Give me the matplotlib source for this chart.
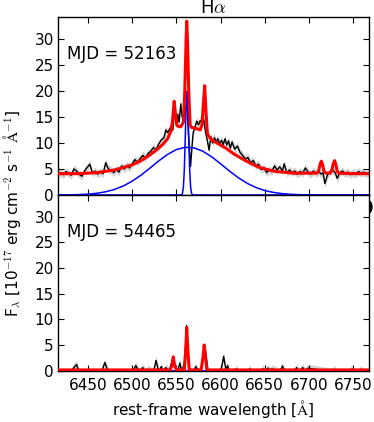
import numpy as np
import matplotlib
matplotlib.use("Agg")
import matplotlib.pyplot as plt
from matplotlib.patches import Ellipse

# ---------------- data ----------------
# Top panel (MJD 52163): observed spectrum
wave_top = [6416, 6419, 6422, 6425, 6428, 6431, 6434, 6437, 6440, 6443, 6446, 6449, 6452, 6455,
            6458, 6461, 6464, 6467, 6470, 6473, 6476, 6479, 6482, 6485, 6488, 6491, 6494, 6497,
            6500, 6503, 6506, 6509, 6512, 6515, 6518, 6521, 6524, 6527, 6530, 6533, 6536, 6538,
            6540, 6542, 6544, 6546, 6548, 6550, 6551.5, 6553, 6555, 6556.5, 6558, 6560, 6562,
            6563.5, 6565, 6566, 6567.5, 6569, 6571, 6573, 6575, 6577, 6579, 6581, 6583, 6585,
            6587, 6589, 6591, 6593, 6595, 6597, 6599, 6601, 6603, 6605, 6607, 6609, 6611, 6613,
            6616, 6619, 6622, 6625, 6628, 6631, 6634, 6637, 6640, 6643, 6646, 6649, 6652, 6655,
            6658, 6661, 6664, 6667, 6670, 6672, 6675, 6678, 6681, 6684, 6687, 6690, 6693, 6696,
            6699, 6702, 6705, 6708, 6711, 6714, 6716, 6718, 6721, 6724, 6727, 6730, 6732, 6735,
            6738, 6741, 6744, 6747, 6750, 6753, 6756, 6759, 6762, 6765, 6768, 6770]
flux_top = [4.0, 4.3, 3.9, 4.5, 4.2, 3.8, 5.0, 4.6, 4.0, 3.6, 4.6, 5.3, 5.9, 4.2,
            4.6, 4.0, 4.5, 4.1, 6.2, 5.0, 4.8, 4.3, 4.9, 4.4, 5.6, 5.0, 5.7, 5.2,
            6.0, 6.8, 6.3, 7.0, 7.6, 7.1, 8.0, 8.4, 9.1, 8.7, 9.8, 10.6, 11.0, 12.5,
            12.0, 12.5, 13.2, 12.5, 16.5, 13.5, 15.5, 14.0, 17.5, 15.0, 14.5, 16.0, 18.0,
            12.0, 8.0, 5.5, 9.0, 12.0, 13.0, 14.2, 13.5, 14.3, 13.8, 14.5, 12.0, 10.5,
            8.6, 11.2, 10.0, 11.0, 10.2, 10.8, 9.8, 10.5, 9.7, 10.8, 9.6, 10.4, 9.0, 10.2,
            8.8, 9.4, 8.2, 7.6, 6.9, 7.2, 6.2, 6.6, 5.6, 5.9, 4.9, 5.3, 4.3, 4.8,
            4.5, 5.6, 4.8, 5.4, 4.6, 6.0, 4.2, 4.8, 4.3, 4.6, 4.0, 4.5, 4.2, 5.2,
            4.4, 4.0, 4.6, 4.2, 4.5, 4.0, 4.3, 2.2, 3.9, 4.5, 4.8, 4.2, 3.2, 4.3,
            4.6, 4.1, 4.4, 3.9, 4.3, 4.0, 4.5, 4.2, 4.4, 4.1, 4.3, 4.2]
flux_err = 0.75

# Top panel: total model
wave_model_top = [6416, 6440, 6460, 6480, 6500, 6510, 6520, 6530, 6535, 6540, 6543, 6544.5,
                  6546, 6547.5, 6549, 6550.5, 6552, 6555, 6558, 6559.5, 6561, 6561.7, 6562.5,
                  6564, 6565.5, 6567, 6572, 6577, 6579, 6580.5, 6582, 6583.5, 6585, 6586,
                  6590, 6600, 6606, 6615, 6625, 6635, 6644, 6655, 6663, 6683, 6700, 6709,
                  6711, 6712.5, 6714, 6715.5, 6717, 6719, 6724, 6726, 6727.5, 6729, 6730.5,
                  6732, 6734, 6750, 6770]
model_top = [4.1, 4.1, 4.3, 4.8, 5.8, 6.6, 7.7, 9.0, 9.8, 10.8, 12.0, 12.6,
             15.0, 18.0, 15.5, 13.4, 13.2, 13.1, 14.0, 20.0, 30.0, 33.4, 30.0,
             20.0, 13.5, 13.0, 12.8, 12.5, 13.5, 17.5, 21.0, 16.0, 12.0, 11.4,
             10.6, 9.6, 9.0, 7.9, 6.9, 6.0, 5.3, 4.8, 4.5, 4.2, 4.2, 4.2,
             4.6, 5.8, 6.5, 5.8, 4.6, 4.2, 4.2, 4.8, 6.0, 6.6, 5.9,
             4.6, 4.2, 4.1, 4.1]

# Top panel: broad H-alpha component
wave_broad = [6416, 6430, 6440, 6450, 6460, 6470, 6480, 6490, 6500, 6510, 6520, 6530, 6540,
              6550, 6560, 6570, 6580, 6590, 6600, 6610, 6620, 6630, 6640, 6650, 6660, 6670,
              6680, 6690, 6700, 6720, 6770]
broad_top = [0.01, 0.04, 0.08, 0.17, 0.33, 0.62, 1.07, 1.74, 2.66, 3.82, 5.16, 6.55, 7.80,
             8.73, 9.17, 9.06, 8.41, 7.33, 6.00, 4.61, 3.33, 2.26, 1.44, 0.86, 0.49, 0.26,
             0.13, 0.06, 0.03, 0.0, 0.0]

# Top panel: narrow H-alpha component
wave_narrow = [6416, 6555, 6556, 6557, 6558, 6559, 6560, 6561, 6562, 6563, 6564, 6565, 6566,
               6567, 6568, 6569, 6770]
narrow_top = [0.0, 0.0, 0.08, 0.42, 1.7, 5.0, 10.8, 17.1, 20.0, 17.1, 10.8, 5.0, 1.7,
              0.42, 0.08, 0.0, 0.0]

# Bottom panel (MJD 54465): observed spectrum
wave_bot = [6416, 6430, 6434, 6437, 6440, 6444, 6465, 6469, 6473, 6500, 6504, 6508, 6512,
            6515, 6518, 6524, 6527, 6530, 6533, 6535, 6538, 6542, 6544, 6546, 6548, 6551,
            6554, 6556, 6559, 6560.5, 6561.5, 6563, 6565, 6569, 6572, 6575, 6579, 6580.5,
            6582, 6583.5, 6586, 6598, 6601, 6603.5, 6606, 6608, 6610, 6616, 6618, 6620,
            6631, 6633, 6635, 6646, 6648, 6650, 6654, 6656, 6658, 6667, 6670, 6673, 6683,
            6686, 6689, 6693, 6696, 6699, 6727, 6729, 6731, 6746, 6748, 6750, 6757, 6759,
            6761, 6770]
flux_bot = [-0.4, -0.4, 0.6, 1.2, -0.3, -0.4, -0.4, 1.6, -0.3, -0.4, 1.0, -0.2, 0.6,
            -0.3, 0.3, -0.3, 2.0, -0.2, 0.8, -0.2, 0.6, -0.2, 1.2, 2.5, 1.0, -0.3,
            1.5, -0.2, 1.5, 5.0, 8.8, 4.0, -0.2, -0.3, 0.8, -0.3, 1.0, 3.5,
            5.0, 3.0, -0.3, -0.3, 0.5, 2.8, 0.2, 1.0, -0.3, -0.3, 0.4, -0.3,
            -0.3, 0.4, -0.3, -0.3, 0.4, -0.3, 0.5, -0.2, 0.4, -0.3, 0.9, -0.3, -0.3,
            0.6, -0.2, 0.6, -0.2, 0.5, -0.3, 0.3, -0.3, -0.3, 0.3, -0.3, -0.3, 0.3,
            -0.3, -0.3]

# Bottom panel: total model
wave_model_bot = [6416, 6543, 6545, 6546.5, 6548, 6550, 6559, 6560.5, 6561.7, 6563, 6564.5,
                  6578, 6580, 6581.5, 6583, 6584.5, 6770]
model_bot = [0.15, 0.15, 1.0, 2.7, 1.0, 0.15, 0.15, 4.0, 8.4, 4.0, 0.15,
             0.15, 2.5, 5.0, 2.5, 0.15, 0.15]

# Bottom panel: (negligible) broad and narrow components
broad_bot = [0.0] * len(wave_broad)
narrow_bot = [0.0] * len(wave_narrow)

mjd_labels = ["MJD = 52163", "MJD = 54465"]
xticks = [6450, 6500, 6550, 6600, 6650, 6700, 6750]
yticks = [0, 5, 10, 15, 20, 25, 30]
xlim = (6416, 6768)
ylim = (0, 34.2)

# ---------------- style ----------------
plt.rcParams.update({
    "font.family": "DejaVu Sans",
    "mathtext.fontset": "cm",
    "xtick.direction": "in",
    "ytick.direction": "in",
    "xtick.top": True,
    "ytick.right": True,
    "xtick.major.size": 4,
    "ytick.major.size": 4,
    "xtick.major.width": 0.8,
    "ytick.major.width": 0.8,
    "xtick.major.pad": 5,
    "ytick.major.pad": 3,
    "axes.linewidth": 1.0,
    "font.size": 11,
})

W, H = 374, 422
fig = plt.figure(figsize=(W / 100, H / 100), dpi=100)
left = 58 / W
right = 369 / W

# small clipped glyph at the right edge between panels (partly hidden behind the axes)
fig.patches.append(Ellipse((367.5 / W, 1 - 207 / H), 9 / W, 13 / H,
                           transform=fig.transFigure, color="black", zorder=-1))

ax_top = fig.add_axes([left, 1 - 195 / H, right - left, (195 - 17) / H])
ax_bot = fig.add_axes([left, 1 - 370.7 / H, right - left, (370.7 - 195) / H], sharex=ax_top)

panels = [
    (ax_top, wave_top, flux_top, model_top, wave_model_top, broad_top, narrow_top),
    (ax_bot, wave_bot, flux_bot, model_bot, wave_model_bot, broad_bot, narrow_bot),
]
for i, (ax, w, f, m, wm, b, n) in enumerate(panels):
    f = np.asarray(f)
    ax.fill_between(w, f - flux_err, f + flux_err, color="#d4d4d4", lw=0, zorder=1)
    ax.plot(w, f, color="black", lw=1.0, zorder=2)
    ax.plot(wave_broad, b, color="blue", lw=1.1, zorder=3)
    ax.plot(wave_narrow, n, color="blue", lw=1.1, zorder=3)
    ax.plot(wm, m, color="red", lw=2.2, zorder=4)
    ax.set_xlim(*xlim)
    ax.set_ylim(*ylim)
    ax.set_yticks(yticks)
    ax.set_xticks(xticks)
    ax.tick_params(labelsize=11)
    ax.text(0.03, 0.79, mjd_labels[i], transform=ax.transAxes, fontsize=12,
            va="center", ha="left")

ax_top.tick_params(labelbottom=False)
ax_top.set_title(r"H$\alpha$", fontsize=13, pad=2)
ax_bot.set_xlabel(r"rest-frame wavelength [$\mathrm{\AA}$]", fontsize=11, labelpad=4)
fig.text(12 / W, 1 - 213 / H,
         r"F$_\lambda$ [10$^{-17}$ erg cm$^{-2}$ s$^{-1}$ $\mathrm{\AA}^{-1}$]",
         rotation=90, ha="center", va="center", fontsize=11)

fig.savefig("out.png", dpi=100)
